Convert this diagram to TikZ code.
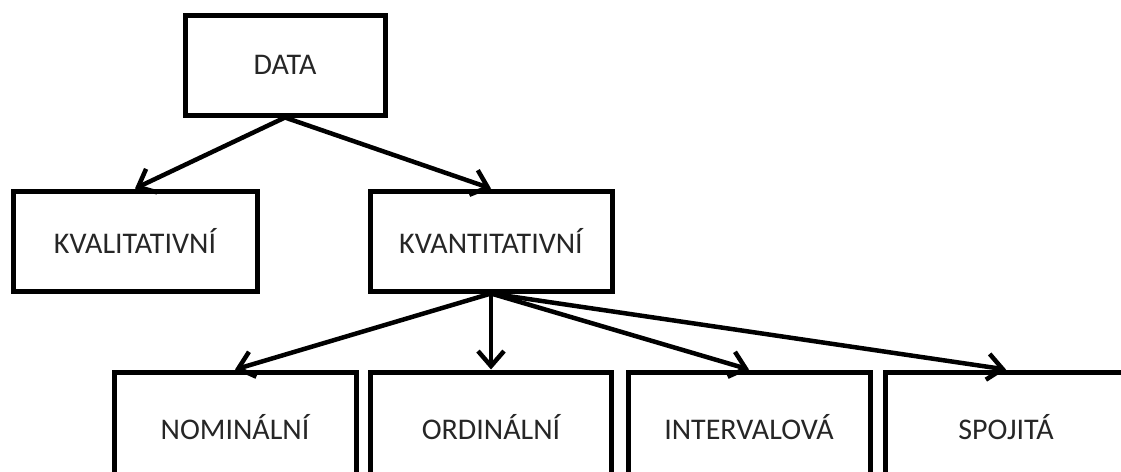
\documentclass[tikz,border=0pt]{standalone}
\usepackage{fontspec}
\setmainfont{Carlito}
\usetikzlibrary{arrows.meta}
\tikzset{box/.style={draw, line width=5pt, minimum width=242pt, minimum height=100pt,
    inner sep=0pt, font=\fontsize{30}{35}\selectfont, text=black!85},
  low/.style={box, minimum height=110pt},
  arr/.style={line width=4.5pt, -{Straight Barb[length=15pt,width=26pt]}}}

\begin{document}
\begin{tikzpicture}[x=1pt,y=-1pt]
  \clip (0,0) rectangle (1121,471);
  \fill[white] (0,0) rectangle (1121,471);
  % top
  \node[box, minimum width=200pt] (data) at (285,65) {DATA};
  % middle row
  \node[box, minimum width=244pt] (kval) at (135,241) {KVALITATIVNÍ};
  \node[box] (kvant) at (491,241) {KVANTITATIVNÍ};
  % bottom row (cut off by the page edge)
  \node[low] (nom) at (235,427) {NOMINÁLNÍ};
  \node[low, minimum width=241pt] (ord) at (491,427) {ORDINÁLNÍ};
  \node[low] (int) at (749,427) {INTERVALOVÁ};
  \node[low] (spoj) at (1006,427) {SPOJITÁ};
  % arrows
  \draw[arr] (data.south) -- (kval.north);
  \draw[arr] (data.south) -- (kvant.north);
  \draw[arr] (kvant.south) -- (nom.north);
  \draw[arr] (kvant.south) -- (ord.north);
  \draw[arr] (kvant.south) -- (int.north);
  \draw[arr] (kvant.south) -- (spoj.north);
\end{tikzpicture}
\end{document}
